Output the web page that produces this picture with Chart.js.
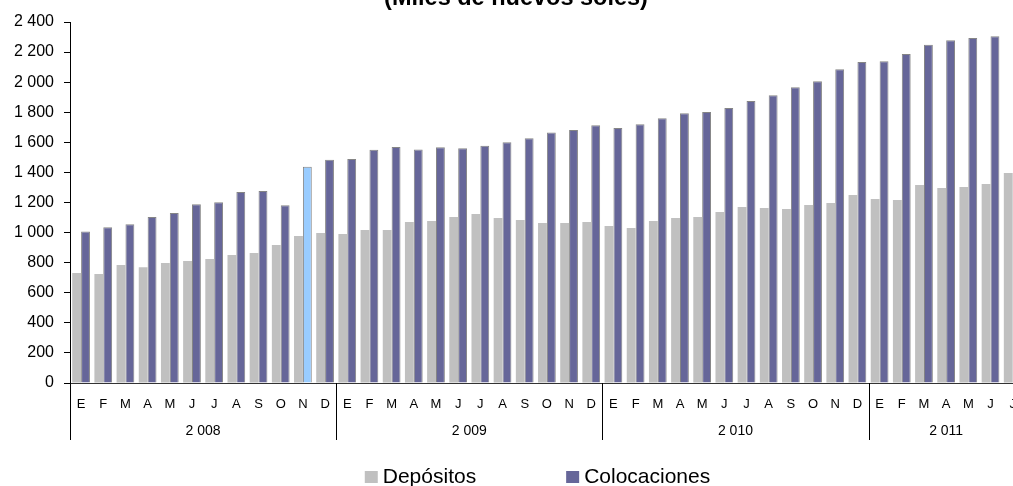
<!DOCTYPE html>
<html>
<head>
<meta charset="utf-8">
<script src="https://cdn.jsdelivr.net/npm/chart.js@4"></script>
<style>
  html, body { margin: 0; padding: 0; background: #fff; overflow: hidden; }
  #wrap { position: relative; width: 1030px; height: 486px; }
</style>
</head>
<body>
<div id="wrap"><canvas id="chart"></canvas></div>
<script>
// Data (Miles de nuevos soles)
const months = ['E', 'F', 'M', 'A', 'M', 'J', 'J', 'A', 'S', 'O', 'N', 'D'];
const years = ['2 008', '2 009', '2 010', '2 011'];
const monthsPerYear = [12, 12, 12, 7];

const depositos = [
    731, 725, 784, 769, 798, 811, 824, 851, 864, 917, 977, 997,
    991, 1017, 1017, 1070, 1077, 1104, 1124, 1097, 1084, 1064, 1064, 1070,
    1044, 1030, 1077, 1097, 1104, 1137, 1170, 1163, 1157, 1183, 1197, 1250,
    1223, 1217, 1316, 1296, 1303, 1323, 1396
];
const colocaciones = [
    1008, 1035, 1055, 1104, 1130, 1188, 1201, 1270, 1276, 1181, 1438, 1485,
    1489, 1551, 1569, 1553, 1567, 1560, 1578, 1600, 1627, 1666, 1682, 1713,
    1695, 1720, 1760, 1793, 1802, 1828, 1875, 1913, 1966, 2006, 2086, 2134,
    2139, 2187, 2249, 2278, 2294, 2305, null
];
const highlightIndex = 10; // N 2008

const FONT = "'Liberation Sans', Arial, sans-serif";

// month labels for every category
const labels = [];
monthsPerYear.forEach(n => {
    for (let i = 0; i < n; i++) labels.push(months[i]);
});

const colocColors = colocaciones.map((v, i) => i === highlightIndex ? '#99CCFF' : '#666699');

function fmtThousands(v) {
    if (v < 1000) return String(v);
    return Math.floor(v / 1000) + ' ' + String(v % 1000).padStart(3, '0');
}

// years, separators, title and legend
const extrasPlugin = {
    id: 'extras',
    afterDraw(chart) {
        const ctx = chart.ctx;
        const x = chart.scales.x;
        const area = chart.chartArea;
        const step = x.getPixelForValue(1) - x.getPixelForValue(0);
        const visRight = Math.min(area.right, window.innerWidth);

        ctx.save();
        // year group separators + year labels
        ctx.strokeStyle = '#000';
        ctx.lineWidth = 1;
        ctx.fillStyle = '#000';
        ctx.font = '14px ' + FONT;
        ctx.textAlign = 'center';
        ctx.textBaseline = 'middle';
        let start = 0;
        monthsPerYear.forEach((n, k) => {
            const left = x.getPixelForValue(start) - step / 2;
            const right = x.getPixelForValue(start + n - 1) + step / 2;
            const lx = Math.round(left) + 0.5;
            ctx.beginPath();
            ctx.moveTo(lx, area.bottom);
            ctx.lineTo(lx, area.bottom + 57);
            ctx.stroke();
            ctx.fillText(years[k], (left + right) / 2, area.bottom + 48);
            start += n;
        });

        // title (partly cut at the top)
        ctx.font = 'bold 23.5px ' + FONT;
        ctx.textBaseline = 'alphabetic';
        ctx.fillText('(Miles de nuevos soles)', 516, 5);

        // legend
        ctx.font = '21px ' + FONT;
        ctx.textAlign = 'left';
        const items = chart.data.datasets.map(d => ({ text: d.label, color: d.legendColor }));
        const box = 13, gap = 5, spacing = 90;
        let total = 0;
        items.forEach((it, i) => {
            it.w = ctx.measureText(it.text).width;
            total += box + gap + it.w + (i ? spacing : 0);
        });
        let lx = (area.left + visRight) / 2 - total / 2 - 4;
        const base = chart.height - 3;
        items.forEach(it => {
            ctx.fillStyle = it.color;
            ctx.fillRect(lx, base - 12, box, box - 1);
            ctx.fillStyle = '#000';
            ctx.fillText(it.text, lx + box + gap, base);
            lx += box + gap + it.w + spacing;
        });
        ctx.restore();
    }
};

const ctx = document.getElementById('chart').getContext('2d');
new Chart(ctx, {
    type: 'bar',
    data: {
        labels: labels,
        datasets: [
            {
                label: 'Depósitos',
                data: depositos,
                backgroundColor: '#C0C0C0',
                borderWidth: 0,
                legendColor: '#C0C0C0',
                categoryPercentage: 0.8,
                barPercentage: 1.0
            },
            {
                label: 'Colocaciones',
                data: colocaciones,
                backgroundColor: colocColors,
                borderColor: '#858585',
                borderWidth: 1,
                legendColor: '#666699',
                categoryPercentage: 0.8,
                barPercentage: 1.0
            }
        ]
    },
    options: {
        responsive: true,
        maintainAspectRatio: false,
        animation: false,
        layout: { padding: { top: 22, right: 4, left: 0, bottom: 0 } },
        plugins: {
            legend: { display: false },
            title: { display: false },
            tooltip: { enabled: false }
        },
        scales: {
            x: {
                grid: { display: false, drawTicks: false },
                border: { display: true, color: '#333', width: 1 },
                ticks: {
                    color: '#000',
                    font: { family: FONT, size: 13 },
                    padding: 14,
                    maxRotation: 0,
                    autoSkip: false
                },
                afterFit(scale) { scale.height = 103; }
            },
            y: {
                min: 0,
                max: 2400,
                grid: { display: true, drawOnChartArea: false, color: '#000', tickLength: 6 },
                border: { display: true, color: '#000', width: 1 },
                ticks: {
                    stepSize: 200,
                    color: '#000',
                    padding: 10,
                    font: { family: FONT, size: 16 },
                    callback: v => fmtThousands(v)
                },
                afterFit(scale) { scale.width = 70; }
            }
        }
    },
    plugins: [extrasPlugin]
});
</script>
</body>
</html>
